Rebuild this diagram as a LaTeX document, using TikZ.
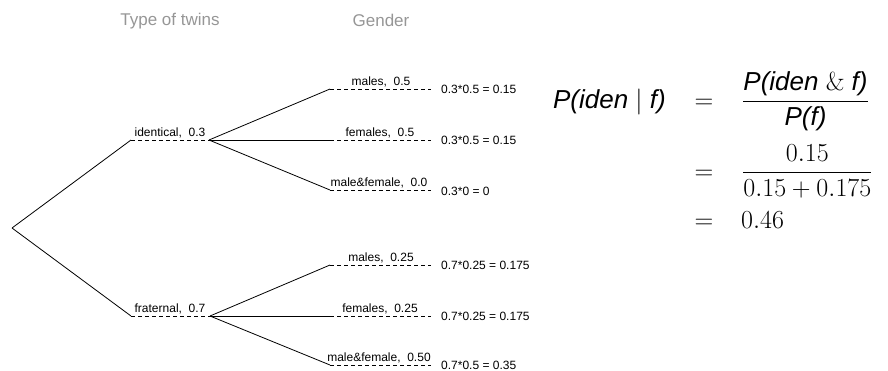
\RequirePackage{fix-cm}
\documentclass[tikz,border=0pt]{standalone}
\usepackage{fontspec}
\newfontfamily\hv{Liberation Sans}
\usetikzlibrary{calc}
\definecolor{hdrgray}{RGB}{150,150,150}
\tikzset{
  lab/.style={font=\hv\fontsize{12}{14}\selectfont, inner sep=0pt, anchor=base},
  res/.style={font=\hv\fontsize{12}{14}\selectfont, inner sep=0pt, anchor=base west},
  hdr/.style={font=\hv\fontsize{17}{20}\selectfont, text=hdrgray, inner sep=0pt, anchor=base},
  br/.style={line width=0.8pt},
  dsh/.style={line width=0.8pt, dash pattern=on 4pt off 3pt},
  eq/.style={font=\fontsize{26}{31}\selectfont, inner sep=0pt},
}
\begin{document}
\begin{tikzpicture}[x=1pt,y=-1pt]
\useasboundingbox (0,0) rectangle (888,370);
% headers
\node[hdr] (h1) at (170,25) {Type of twins};
\node[hdr] (h2) at (381,26) {Gender};
% tree points
\coordinate (root) at (12,228);
\coordinate (i) at (131,140);  \coordinate (ie) at (209,140);
\coordinate (f) at (131,316);  \coordinate (fe) at (210,316);
\coordinate (im) at (330,89);  \coordinate (ime) at (431,89);
\coordinate (if) at (330,140); \coordinate (ife) at (431,140);
\coordinate (ib) at (330,190); \coordinate (ibe) at (431,190);
\coordinate (fm) at (330,265); \coordinate (fme) at (431,265);
\coordinate (ff) at (330,316); \coordinate (ffe) at (431,316);
\coordinate (fb) at (330,365); \coordinate (fbe) at (431,365);
% branches
\draw[br] (root) -- (i);
\draw[br] (root) -- (f);
\draw[dsh] (i) -- (ie);
\draw[dsh] (f) -- (fe);
\foreach \a/\b in {im/ime,if/ife,ib/ibe}{
  \draw[br] (ie) -- (\a);
  \draw[dsh] (\a) -- (\b);
}
\foreach \a/\b in {fm/fme,ff/ffe,fb/fbe}{
  \draw[br] (fe) -- (\a);
  \draw[dsh] (\a) -- (\b);
}
% level-1 labels
\node[lab] (li) at (170,136) {identical,\ \ 0.3};
\node[lab] (lf) at (170,312) {fraternal,\ \ 0.7};
% level-2 labels
\node[lab] (lim) at (381,85) {males,\ \ 0.5};
\node[lab] (lif) at (380,136) {females,\ \ 0.5};
\node[lab] (lib) at (379,186.5) {male\&female,\ \ 0.0};
\node[lab] (lfm) at (381,261) {males,\ \ 0.25};
\node[lab] (lff) at (380,312) {females,\ \ 0.25};
\node[lab] (lfb) at (379,361.5) {male\&female,\ \ 0.50};
% results
\node[res] (ri1) at (441,93) {0.3*0.5 = 0.15};
\node[res] (ri2) at (441,144) {0.3*0.5 = 0.15};
\node[res] (ri3) at (441,195) {0.3*0 = 0};
\node[res] (rf1) at (441,269) {0.7*0.25 = 0.175};
\node[res] (rf2) at (441,320) {0.7*0.25 = 0.175};
\node[res] (rf3) at (441,369) {0.7*0.5 = 0.35};
% equation
\node[eq, anchor=base east] (lhs) at (666,108) {\hv\itshape P(iden $\mid$ f)};
\node[eq, anchor=base] (eq1) at (704,108) {$=$};
\node[eq, anchor=base west] (fr1) at (742,108) {$\displaystyle\frac{\mbox{\hv\itshape P(iden {\rmfamily\upshape\&} f)}}{\mbox{\hv\itshape P(f)}}$};
\node[eq, anchor=base] (eq2) at (704,179) {$=$};
\node[eq, anchor=base west] (fr2) at (742,179) {$\displaystyle\frac{0.15}{0.15+0.175}$};
\node[eq, anchor=base] (eq3) at (704,228) {$=$};
\node[eq, anchor=base west] (val) at (741,228) {$0.46$};
\end{tikzpicture}
\end{document}
